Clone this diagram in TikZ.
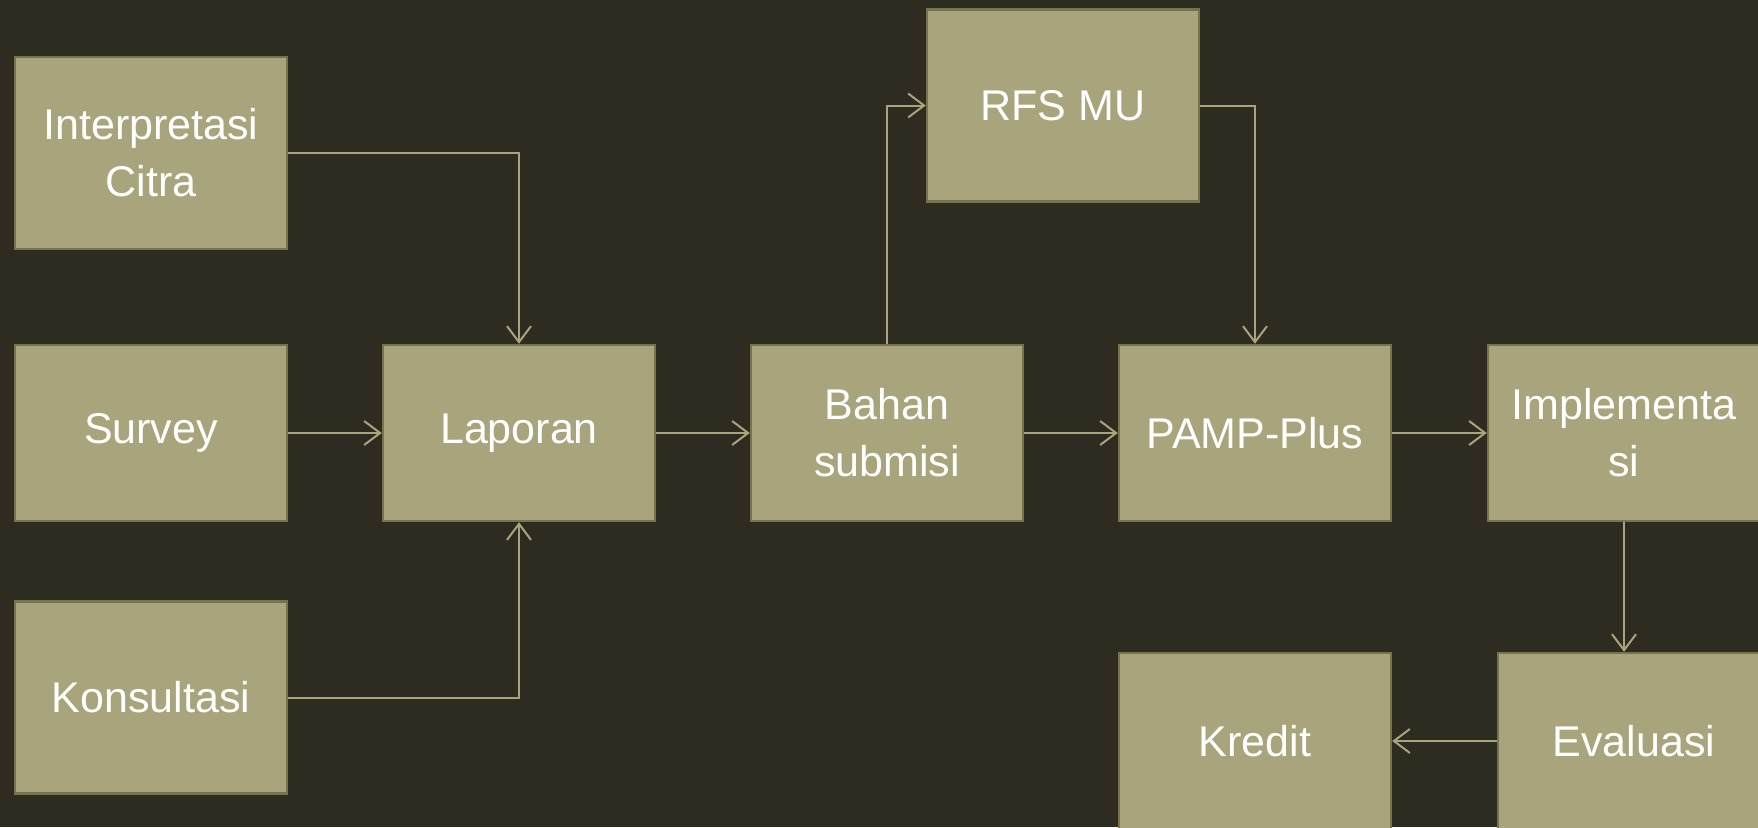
\documentclass[tikz,border=0pt]{standalone}
\usepackage{fontspec}
\setmainfont{Liberation Sans}
\usetikzlibrary{arrows.meta}
\definecolor{bg}{HTML}{2E2B20}
\definecolor{boxfill}{HTML}{A8A47C}
\definecolor{boxline}{HTML}{77734F}
\definecolor{connc}{HTML}{A8A47C}
\begin{document}
\begin{tikzpicture}[x=0.5pt,y=-0.5pt,
  box/.style={draw=boxline, line width=1.2pt, fill=boxfill, text=white,
    font=\fontsize{21.5}{28.5}\selectfont, align=center, inner sep=0pt,
    minimum width=136pt, minimum height=88pt},
  tall/.style={minimum height=96pt},
  conn/.style={draw=connc, line width=1pt,
    -{Straight Barb[length=8pt,width=12pt,line width=1pt]}}]
\fill[bg] (0,0) rectangle (1758,827);
\useasboundingbox (0,0) rectangle (1758,827);
\clip (0,0) rectangle (1758,827);
\node[box,tall] (interp) at (151,153) {Interpretasi\\Citra};
\node[box] (survey) at (151,433) {Survey};
\node[box,tall] (konsul) at (151,697.5) {Konsultasi};
\node[box] (laporan) at (519,433) {Laporan};
\node[box] (bahan) at (887,433) {Bahan\\submisi};
\node[box,tall] (rfs) at (1063,105.5) {RFS MU};
\node[box] (pamp) at (1255,433) {PAMP-Plus};
\node[box] (impl) at (1624,433) {Implementa\\si};
\node[box] (kredit) at (1255,741) {Kredit};
\node[box] (eval) at (1634,741) {Evaluasi};
\draw[conn] (interp.east) -| (laporan.north);
\draw[conn] (survey) -- (laporan);
\draw[conn] (konsul.east) -| (laporan.south);
\draw[conn] (laporan) -- (bahan);
\draw[conn] (bahan.north) |- (rfs.west);
\draw[conn] (rfs.east) -| (pamp.north);
\draw[conn] (bahan) -- (pamp);
\draw[conn] (pamp) -- (impl);
\draw[conn] (impl.south) -- (impl.south |- eval.north);
\draw[conn] (eval) -- (kredit);
\end{tikzpicture}
\end{document}
